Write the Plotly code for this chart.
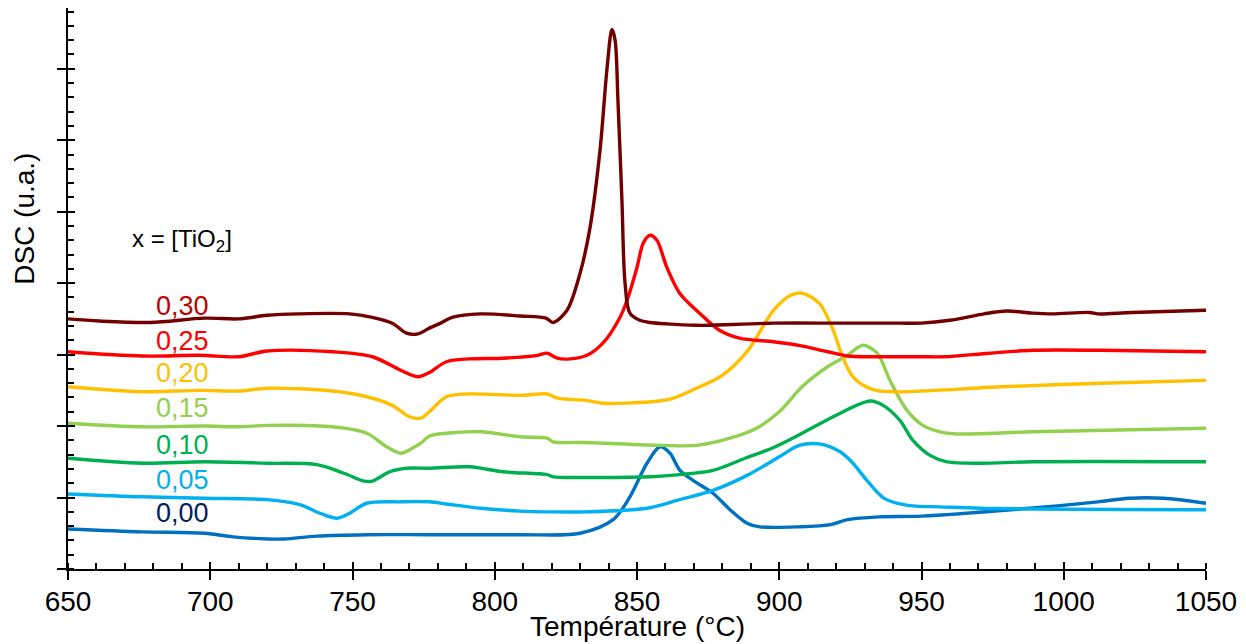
import plotly.graph_objects as go

# ---- data (temperature in °C, DSC in arbitrary units) ----
labels = ["0,30", "0,25", "0,20", "0,15", "0,10", "0,05", "0,00"]

t_030 = [650, 661, 679, 698, 710, 720, 731, 749, 757, 764, 769, 773, 777, 781, 785, 795, 809, 818,
         820.5, 825.4, 830, 833.5, 837, 839.5, 841.2, 842.3, 843.3, 844.7, 845.8, 847.5, 851, 854.6,
         860.5, 871, 875, 898, 921, 942, 950, 960, 972, 980, 989, 996, 1009, 1012, 1024, 1050]
y_030 = [3.50, 3.47, 3.45, 3.51, 3.50, 3.55, 3.57, 3.57, 3.52, 3.44, 3.30, 3.29, 3.37, 3.44, 3.52, 3.57, 3.54, 3.51,
         3.45, 3.62, 4.14, 4.78, 5.86, 7.02, 7.55, 7.40, 6.56, 5.16, 4.00, 3.58, 3.48, 3.45,
         3.43, 3.41, 3.41, 3.44, 3.44, 3.44, 3.44, 3.48, 3.57, 3.61, 3.58, 3.57, 3.59, 3.57, 3.59, 3.62]

t_025 = [650, 676, 696, 710, 720, 743, 757, 767, 773, 777, 783, 791, 803, 815, 818.4, 822, 826.5, 832.4,
         838, 844, 846.5, 850, 852.2, 854.6, 857, 860.5, 865, 872, 879, 886, 898, 907, 917, 924, 933,
         950, 958, 974, 989, 1013, 1050]
y_025 = [3.04, 2.98, 2.99, 2.97, 3.05, 3.04, 2.97, 2.78, 2.69, 2.75, 2.90, 2.94, 2.95, 2.99, 3.02, 2.95, 2.94, 2.99,
         3.16, 3.52, 3.76, 4.22, 4.56, 4.67, 4.60, 4.22, 3.86, 3.58, 3.34, 3.23, 3.18, 3.13, 3.04, 2.98, 2.97,
         2.97, 2.97, 3.02, 3.06, 3.06, 3.04]

t_020 = [650, 676, 696, 710, 720, 743, 755, 764, 770, 774, 777, 783, 791, 809, 818.4, 822, 832, 838,
         855, 862, 872, 880, 889, 898, 904, 908, 914, 919, 921.4, 925.9, 933, 940, 950, 978, 1013, 1050]
y_020 = [2.55, 2.48, 2.50, 2.49, 2.53, 2.49, 2.41, 2.29, 2.13, 2.11, 2.20, 2.41, 2.45, 2.43, 2.45, 2.39, 2.36, 2.32,
         2.34, 2.38, 2.55, 2.71, 3.06, 3.62, 3.83, 3.86, 3.72, 3.34, 3.06, 2.69, 2.51, 2.48, 2.49, 2.55, 2.60, 2.64]

t_015 = [650, 676, 698, 710, 720, 743, 755, 762, 767, 771, 774, 777, 783, 795, 809, 818.4, 820.5, 832,
         859, 871, 882.7, 892, 900, 908, 917, 924, 929.4, 934.4, 938.9, 944.9, 950.5, 956.5, 962.5, 989, 1050]
y_015 = [2.04, 1.99, 2.00, 1.99, 2.01, 1.99, 1.90, 1.71, 1.62, 1.69, 1.76, 1.86, 1.90, 1.92, 1.85, 1.83, 1.78, 1.77,
         1.73, 1.73, 1.83, 1.97, 2.20, 2.55, 2.83, 2.99, 3.13, 3.02, 2.64, 2.22, 2.01, 1.92, 1.89, 1.92, 1.97]

t_010 = [650, 676, 698, 720, 737.5, 747, 754, 757, 763, 769, 777, 791, 803, 818.4, 820.5, 832, 855, 865,
         876.7, 888, 898, 910, 921.4, 931.9, 936.5, 942.4, 947, 953, 959, 970.6, 989, 1050]
y_010 = [1.55, 1.48, 1.50, 1.48, 1.46, 1.34, 1.23, 1.23, 1.36, 1.41, 1.41, 1.43, 1.36, 1.32, 1.29, 1.28, 1.29, 1.32,
         1.38, 1.55, 1.70, 1.94, 2.18, 2.35, 2.29, 2.08, 1.80, 1.59, 1.50, 1.48, 1.50, 1.50]

t_005 = [650, 676, 698, 720, 731.5, 738.6, 744.6, 749, 755, 767, 777, 783, 795, 809, 819, 832, 853.5, 865,
         876.7, 888.7, 900, 907, 914, 921.4, 925.9, 930.8, 936.5, 942.4, 948, 956.5, 970.6, 1050]
y_005 = [1.05, 1.01, 0.99, 0.97, 0.90, 0.78, 0.71, 0.78, 0.92, 0.94, 0.94, 0.91, 0.85, 0.81, 0.80, 0.80, 0.85, 0.97,
         1.10, 1.31, 1.57, 1.73, 1.75, 1.64, 1.48, 1.24, 1.00, 0.91, 0.88, 0.87, 0.85, 0.83]

t_000 = [650, 676, 698, 708, 720, 726, 737.5, 755, 777, 809, 830, 841.6, 847.5, 853.5, 858.1, 861.6,
         865.1, 869.7, 876.7, 882.7, 888.7, 893.2, 907, 918, 924, 935, 950, 988, 1012, 1023, 1035, 1050]
y_000 = [0.56, 0.52, 0.50, 0.45, 0.42, 0.42, 0.46, 0.48, 0.48, 0.48, 0.50, 0.69, 1.01, 1.48, 1.71, 1.62,
         1.38, 1.24, 1.06, 0.83, 0.64, 0.59, 0.59, 0.62, 0.69, 0.73, 0.74, 0.85, 0.94, 0.99, 0.99, 0.92]

x_ticks = [650, 700, 750, 800, 850, 900, 950, 1000, 1050]

series_t = [t_030, t_025, t_020, t_015, t_010, t_005, t_000]
series_y = [y_030, y_025, y_020, y_015, y_010, y_005, y_000]

# ---- styles ----
line_colors = ["#720000", "#FF0000", "#FFC000", "#92D050", "#00B050", "#00B0F0", "#0070C0"]
label_colors = ["#C00000", "#FF0000", "#FFC000", "#92D050", "#00B050", "#00B0F0", "#002060"]
label_pos_y = [3.68, 3.19, 2.74, 2.25, 1.74, 1.24, 0.78]
FONT = "Liberation Sans, Arial, sans-serif"

fig = go.Figure()
for i in reversed(range(len(labels))):
    fig.add_trace(go.Scatter(x=series_t[i], y=series_y[i], mode="lines", name=labels[i],
                             line=dict(color=line_colors[i], width=3.4, shape="spline", smoothing=0.9),
                             showlegend=False, hoverinfo="skip"))

# dummy trace on overlay axes (for inner half of major ticks)
fig.add_trace(go.Scatter(x=[650], y=[0], xaxis="x2", yaxis="y2", mode="markers",
                         marker=dict(opacity=0), showlegend=False, hoverinfo="skip"))

for i, lab in enumerate(labels):
    fig.add_annotation(x=690.4, y=label_pos_y[i], text=lab, showarrow=False,
                       xanchor="center", yanchor="middle",
                       font=dict(family=FONT, size=27, color=label_colors[i]))

fig.add_annotation(x=690, y=4.6, text="x = [TiO<sub>2</sub>]", showarrow=False,
                   xanchor="center", yanchor="middle",
                   font=dict(family=FONT, size=24, color="black"))
fig.add_annotation(xref="paper", x=0, xshift=-43, y=4.9, text="DSC (u.a.)", textangle=-90,
                   xanchor="center", yanchor="middle",
                   showarrow=False, font=dict(family=FONT, size=28, color="black"))
fig.add_annotation(xref="paper", yref="paper", x=0.5, y=0, yshift=-57, text="Température (°C)",
                   xanchor="center", yanchor="middle",
                   showarrow=False, font=dict(family=FONT, size=28, color="black"))

yr = [0, 7.85]
xr = [650, 1050]
fig.update_layout(
    width=1238, height=636,
    margin=dict(l=60, r=40, t=0, b=75),
    paper_bgcolor="white", plot_bgcolor="white",
    font=dict(family=FONT, size=28, color="black"),
    xaxis=dict(range=xr, tickvals=x_ticks, ticks="outside", ticklen=9, tickwidth=2, tickcolor="black",
               showline=True, linewidth=2, linecolor="black", showgrid=False, zeroline=False,
               tickfont=dict(family=FONT, size=28), ticklabelstandoff=-3,
               minor=dict(ticks="inside", dtick=10, ticklen=6, tickwidth=1.5, tickcolor="black", showgrid=False)),
    yaxis=dict(range=yr, dtick=1, tick0=0, ticks="outside", ticklen=9, tickwidth=2, tickcolor="black",
               showline=True, linewidth=2, linecolor="black", showgrid=False, zeroline=False,
               showticklabels=False,
               minor=dict(ticks="inside", dtick=0.2, ticklen=6, tickwidth=1.5, tickcolor="black", showgrid=False)),
    xaxis2=dict(overlaying="x", anchor="y", range=xr, tickvals=x_ticks, ticks="inside", ticklen=7,
                tickwidth=2, tickcolor="black", showticklabels=False, showgrid=False, zeroline=False,
                showline=False, side="bottom"),
    yaxis2=dict(overlaying="y", anchor="x", range=yr, dtick=1, tick0=0, ticks="inside", ticklen=7,
                tickwidth=2, tickcolor="black", showticklabels=False, showgrid=False, zeroline=False,
                showline=False, side="left"),
)

fig.write_html("out.html")
